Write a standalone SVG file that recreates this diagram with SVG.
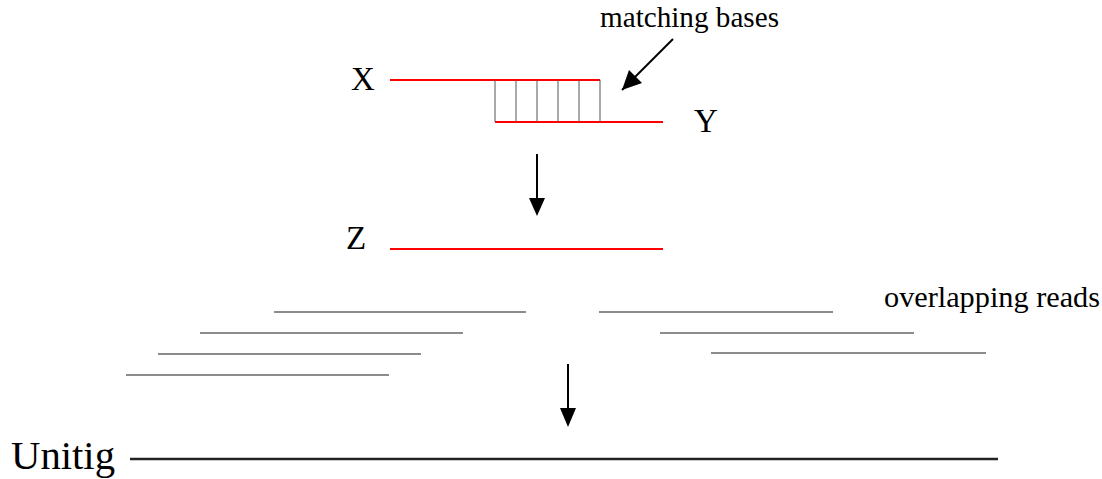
<svg xmlns="http://www.w3.org/2000/svg" width="1102" height="479" viewBox="0 0 1102 479">
<style>
.red{stroke:#ff0000;stroke-width:2;fill:none}
.base{stroke:#555;stroke-width:1;fill:none}
.read{stroke:#666;stroke-width:1.5;fill:none}
</style>
<g id="nodeX">
<text x="351" y="90" font-size="33" font-family="Liberation Serif, Times New Roman, serif" fill="#000">X</text>
<line class="red" x1="390" y1="80" x2="600" y2="80"/>
</g>
<g id="nodeY">
<text x="694" y="132" font-size="33" font-family="Liberation Serif, Times New Roman, serif" fill="#000">Y</text>
<line class="red" x1="495" y1="122" x2="663" y2="122"/>
</g>
<g id="matching">
<line class="base" x1="495" y1="80" x2="495" y2="122"/>
<line class="base" x1="516" y1="80" x2="516" y2="122"/>
<line class="base" x1="537" y1="80" x2="537" y2="122"/>
<line class="base" x1="558" y1="80" x2="558" y2="122"/>
<line class="base" x1="579" y1="80" x2="579" y2="122"/>
<line class="base" x1="600" y1="80" x2="600" y2="122"/>
<text x="600" y="27" font-size="29" font-family="Liberation Serif, Times New Roman, serif" fill="#000" textLength="179" lengthAdjust="spacingAndGlyphs">matching bases</text>
</g>
<g id="nodeZ">
<text x="346" y="249" font-size="33" font-family="Liberation Serif, Times New Roman, serif" fill="#000">Z</text>
<line class="red" x1="390" y1="249" x2="663" y2="249"/>
</g>
<g id="reads">
<line class="read" x1="274" y1="312" x2="526" y2="312"/>
<line class="read" x1="200" y1="333" x2="463" y2="333"/>
<line class="read" x1="158" y1="354" x2="421" y2="354"/>
<line class="read" x1="126" y1="375" x2="389" y2="375"/>
<line class="read" x1="599" y1="312" x2="833" y2="312"/>
<line class="read" x1="660" y1="333" x2="914" y2="333"/>
<line class="read" x1="711" y1="353" x2="986" y2="353"/>
<text x="884" y="307" font-size="29" font-family="Liberation Serif, Times New Roman, serif" fill="#000" textLength="216" lengthAdjust="spacingAndGlyphs">overlapping reads</text>
</g>
<g id="unitig">
<text x="11" y="469" font-size="40" font-family="Liberation Serif, Times New Roman, serif" fill="#000" textLength="104" lengthAdjust="spacingAndGlyphs">Unitig</text>
<line x1="130" y1="459" x2="998" y2="459" stroke="#222" stroke-width="2.5"/>
</g>
<g id="connectors">
<line x1="673" y1="39" x2="622" y2="90" stroke="#000" stroke-width="2"/>
<path d="M622,90 L629,70 L642,83 Z" fill="#000"/>
<line x1="537" y1="154" x2="537" y2="200" stroke="#000" stroke-width="2"/>
<path d="M529,198 L545,198 L537,216 Z" fill="#000"/>
<line x1="568" y1="364" x2="568" y2="410" stroke="#000" stroke-width="2"/>
<path d="M560,408 L576,408 L568,427 Z" fill="#000"/>
</g>
</svg>
